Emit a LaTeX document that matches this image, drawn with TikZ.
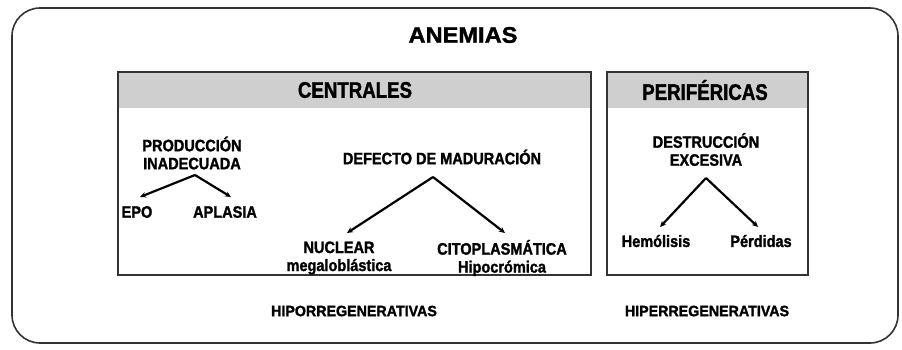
\documentclass[tikz,border=0pt]{standalone}
\usepackage{fontspec}
\setmainfont{Liberation Sans}
\newfontfamily\lblfont[FakeStretch=0.88,BoldFeatures={FakeBold=1.5}]{Liberation Sans}
\newfontfamily\headfont[FakeStretch=0.83,BoldFeatures={FakeBold=1.5}]{Liberation Sans}
\newfontfamily\titlefont[FakeStretch=1.05,BoldFeatures={FakeBold=1.5}]{Liberation Sans}
\newfontfamily\footfont[FakeStretch=0.95,BoldFeatures={FakeBold=1.5}]{Liberation Sans}
\usetikzlibrary{arrows.meta}
\definecolor{hdr}{HTML}{CFCFCF}
\definecolor{frame}{HTML}{333333}
\tikzset{
  x=1pt, y=-1pt,
  outerbox/.style={draw=frame, line width=1.6pt, rounded corners=28pt},
  catbox/.style={draw=frame, line width=1.4pt},
  hdrband/.style={fill=hdr},
  title/.style={font=\titlefont\bfseries\fontsize{22.5}{22.5}\selectfont, inner sep=0pt, anchor=center},
  head/.style={font=\headfont\bfseries\fontsize{22.5}{22.5}\selectfont, inner sep=0pt, anchor=center},
  lbl/.style={font=\lblfont\bfseries\fontsize{16.5}{18}\selectfont, inner sep=0pt, align=center, anchor=center},
  foot/.style={font=\footfont\bfseries\fontsize{15}{15}\selectfont, inner sep=0pt, anchor=center},
  branch/.style={line width=2.2pt, -{Stealth[length=6pt,width=5.5pt]}},
}
\begin{document}
\begin{tikzpicture}
\useasboundingbox (0,0) rectangle (902,349);
\fill[white] (0,0) rectangle (902,349);
\draw[outerbox] (12,8) rectangle (898,343);
% category boxes
\fill[hdrband] (118,72) rectangle (591,108);
\fill[hdrband] (607,72) rectangle (808,108);
\draw[catbox] (118,72) rectangle (591,275);
\draw[catbox] (607,72) rectangle (808,275);
\node[title] (anemias) at (463,35) {ANEMIAS};
\node[head] (centrales) at (355,90) {CENTRALES};
\node[head] (perifericas) at (705,90) {PERIFÉRICAS};
% centrales
\node[lbl] (prod) at (192,153) {PRODUCCIÓN\\INADECUADA};
\coordinate (prodapex) at (195,175);
\node[lbl] (epo) at (137,212) {EPO};
\node[lbl] (aplasia) at (225,212) {APLASIA};
\draw[branch] (prodapex) -- (140,197);
\draw[branch] (prodapex) -- (231,197);
\node[lbl] (defecto) at (442,157) {DEFECTO DE MADURACIÓN};
\coordinate (defapex) at (433,177);
\node[lbl] (nuclear) at (339,258) {NUCLEAR\\megaloblástica};
\node[lbl] (cito) at (502,258) {CITOPLASMÁTICA\\Hipocrómica};
\draw[branch] (defapex) -- (347,233);
\draw[branch] (defapex) -- (505,233);
% perifericas
\node[lbl] (destr) at (706,149.5) {DESTRUCCIÓN\\EXCESIVA};
\coordinate (destapex) at (706,178);
\node[lbl] (hemo) at (656,241) {Hemólisis};
\node[lbl] (perd) at (761,241) {Pérdidas};
\draw[branch] (destapex) -- (660,227);
\draw[branch] (destapex) -- (758,227);
% footers
\node[foot] (hipo) at (354,311) {HIPORREGENERATIVAS};
\node[foot] (hiper) at (707,311) {HIPERREGENERATIVAS};
\end{tikzpicture}
\end{document}
